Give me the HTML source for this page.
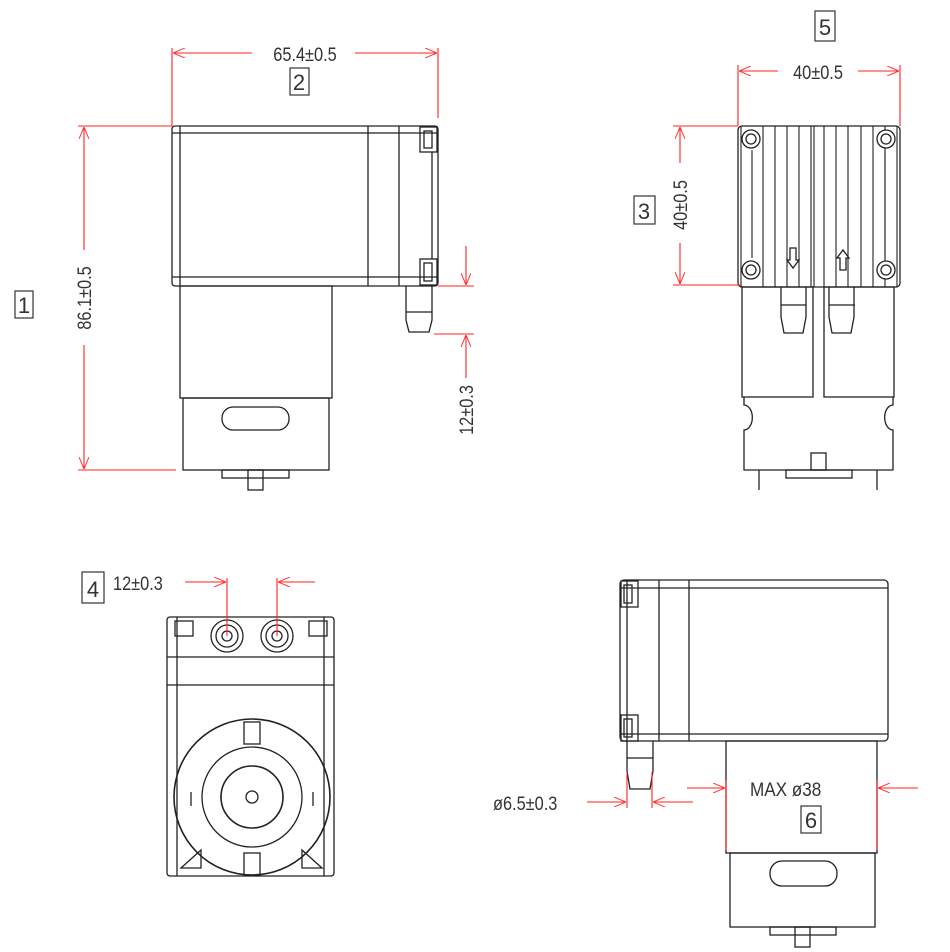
<!DOCTYPE html>
<html><head><meta charset="utf-8"><style>
html,body{margin:0;padding:0;background:#fff;width:950px;height:952px;overflow:hidden}
svg{display:block}
text{font-family:"Liberation Sans",sans-serif;fill:#333}
</style></head><body>
<svg width="950" height="952" viewBox="0 0 950 952" xmlns="http://www.w3.org/2000/svg">
<defs>
<marker id="a" viewBox="0 0 12 10" refX="12" refY="5" markerWidth="12" markerHeight="10" orient="auto-start-reverse" markerUnits="userSpaceOnUse"><path d="M0,0 L12,5 L0,10" fill="none" stroke="#f33" stroke-width="1"/></marker>
</defs>
<g fill="none" stroke="#222" stroke-width="1.3">
<rect x="172" y="126" width="266" height="160" rx="3"/>
<line x1="180" y1="126" x2="180" y2="286"/>
<line x1="172" y1="133" x2="438" y2="133"/>
<line x1="172" y1="277" x2="438" y2="277"/>
<line x1="368" y1="126" x2="368" y2="286"/>
<line x1="399" y1="126" x2="399" y2="286"/>
<rect x="420" y="127" width="17" height="25"/><rect x="424" y="131" width="8" height="17"/>
<rect x="420" y="259" width="17" height="26"/><rect x="424" y="263" width="8" height="18"/>
<line x1="432" y1="152" x2="432" y2="259"/>
<rect x="180" y="286" width="152" height="112"/>
<rect x="183" y="398" width="146" height="72"/>
<rect x="222" y="407" width="67" height="23" rx="11"/>
<rect x="222" y="470" width="67" height="8"/>
<rect x="248" y="470" width="15" height="20"/>
<path d="M406,286 v34 l3,12 h20 l3,-12 v-34"/>
<line x1="406" y1="312" x2="432" y2="312"/>
<rect x="738" y="126" width="162" height="161" rx="4"/>
<g stroke-width="1.1">
<line x1="741" y1="126" x2="741" y2="287"/><line x1="763" y1="126" x2="763" y2="287"/>
<line x1="775" y1="126" x2="775" y2="287"/><line x1="787" y1="126" x2="787" y2="287"/>
<line x1="799" y1="126" x2="799" y2="287"/><line x1="811" y1="126" x2="811" y2="287"/>
<line x1="814" y1="126" x2="814" y2="287"/><line x1="824" y1="126" x2="824" y2="287"/>
<line x1="836" y1="126" x2="836" y2="287"/><line x1="848" y1="126" x2="848" y2="287"/>
<line x1="861" y1="126" x2="861" y2="287"/><line x1="873" y1="126" x2="873" y2="287"/>
<line x1="885" y1="126" x2="885" y2="287"/><line x1="897" y1="126" x2="897" y2="287"/>
<line x1="752" y1="150" x2="752" y2="258"/><line x1="885" y1="150" x2="885" y2="258"/>
</g>
<g fill="#fff">
<circle cx="751" cy="139" r="9"/><circle cx="751" cy="139" r="5"/>
<circle cx="886" cy="139" r="9"/><circle cx="886" cy="139" r="5"/>
<circle cx="751" cy="270" r="9"/><circle cx="751" cy="270" r="5"/>
<circle cx="886" cy="270" r="9"/><circle cx="886" cy="270" r="5"/>
</g>
<path d="M790,248 h6 v12 h3 l-6,8 l-6,-8 h3z"/>
<path d="M840,270 h6 v-12 h3 l-6,-8 l-6,8 h3z"/>
<rect x="742" y="287" width="71" height="110"/>
<rect x="824" y="287" width="70" height="110"/>
<path d="M781,287 v30 l3,16 h19 l3,-16 v-30"/><line x1="781" y1="305" x2="806" y2="305"/>
<path d="M829,287 v30 l3,16 h19 l3,-16 v-30"/><line x1="829" y1="305" x2="855" y2="305"/>
<path d="M744,397 v8 a8,12 0 0 1 0,25 v40 h149 v-40 a8,12 0 0 1 0,-25 v-8"/>
<rect x="811" y="453" width="15" height="17"/>
<rect x="786" y="470" width="66" height="8"/>
<line x1="759" y1="470" x2="759" y2="490"/><line x1="877" y1="470" x2="877" y2="490"/>
<rect x="167" y="617" width="167" height="259" rx="3"/>
<line x1="177" y1="617" x2="177" y2="876"/><line x1="324" y1="617" x2="324" y2="876"/>
<line x1="167" y1="657" x2="334" y2="657"/>
<line x1="167" y1="685" x2="334" y2="685"/>
<rect x="175" y="621" width="18" height="15"/><rect x="309" y="621" width="18" height="15"/>
<circle cx="227" cy="636" r="16"/><circle cx="227" cy="636" r="11"/><circle cx="227" cy="636" r="5"/>
<circle cx="277" cy="636" r="16"/><circle cx="277" cy="636" r="11"/><circle cx="277" cy="636" r="5"/>
<circle cx="252" cy="797" r="78" stroke-width="1.6"/>
<circle cx="252" cy="797" r="50"/>
<circle cx="252" cy="797" r="31" stroke-width="1.6"/>
<circle cx="252" cy="797" r="6"/>
<rect x="244" y="722" width="16" height="22"/>
<rect x="244" y="853" width="16" height="22"/>
<line x1="191" y1="792" x2="191" y2="806"/><line x1="313" y1="792" x2="313" y2="806"/>
<path d="M181,868 l20,-18 v18z"/><path d="M322,868 l-20,-18 v18z"/>
<rect x="620" y="580" width="268" height="161" rx="4"/>
<line x1="627" y1="580" x2="627" y2="741"/>
<line x1="620" y1="588" x2="888" y2="588"/>
<line x1="620" y1="734" x2="888" y2="734"/>
<line x1="659" y1="580" x2="659" y2="741"/>
<line x1="689" y1="580" x2="689" y2="741"/>
<rect x="621" y="581" width="17" height="26"/><rect x="624" y="585" width="8" height="18"/>
<rect x="621" y="715" width="17" height="26"/><rect x="624" y="719" width="8" height="18"/>
<rect x="726" y="741" width="151" height="112"/>
<rect x="730" y="853" width="145" height="74"/>
<rect x="770" y="861" width="67" height="25" rx="12"/>
<rect x="770" y="927" width="66" height="8"/>
<rect x="795" y="927" width="15" height="20"/>
<path d="M627,741 v30 l3,18 h20 l3,-18 v-30"/><line x1="627" y1="758" x2="653" y2="758"/>
</g>
<g stroke="#f22" stroke-width="1.1" fill="none">
<line x1="172" y1="48" x2="172" y2="126"/><line x1="438" y1="48" x2="438" y2="118"/>
<line x1="173" y1="53" x2="252" y2="53" marker-start="url(#a)"/><line x1="355" y1="53" x2="437" y2="53" marker-end="url(#a)"/>
<line x1="78" y1="126" x2="172" y2="126"/><line x1="78" y1="470" x2="176" y2="470"/>
<line x1="84" y1="127" x2="84" y2="250" marker-start="url(#a)"/><line x1="84" y1="345" x2="84" y2="469" marker-end="url(#a)"/>
<line x1="438" y1="286" x2="474" y2="286"/><line x1="434" y1="334" x2="474" y2="334"/>
<line x1="466" y1="246" x2="466" y2="285" marker-end="url(#a)"/><line x1="466" y1="378" x2="466" y2="335" marker-end="url(#a)"/>
<line x1="738" y1="65" x2="738" y2="126"/><line x1="900" y1="65" x2="900" y2="126"/>
<line x1="739" y1="71" x2="778" y2="71" marker-start="url(#a)"/><line x1="858" y1="71" x2="899" y2="71" marker-end="url(#a)"/>
<line x1="673" y1="126" x2="738" y2="126"/><line x1="673" y1="285" x2="742" y2="285"/>
<line x1="680" y1="127" x2="680" y2="163" marker-start="url(#a)"/><line x1="680" y1="243" x2="680" y2="284" marker-end="url(#a)"/>
<line x1="227" y1="578" x2="227" y2="636"/><line x1="277" y1="578" x2="277" y2="636"/>
<line x1="185" y1="582" x2="226" y2="582" marker-end="url(#a)"/><line x1="315" y1="582" x2="278" y2="582" marker-end="url(#a)"/>
<line x1="627" y1="772" x2="627" y2="808"/><line x1="652" y1="772" x2="652" y2="808"/>
<line x1="587" y1="802" x2="626" y2="802" marker-end="url(#a)"/><line x1="693" y1="802" x2="653" y2="802" marker-end="url(#a)"/>
<line x1="726" y1="780" x2="726" y2="850"/><line x1="877" y1="780" x2="877" y2="850"/>
<line x1="687" y1="788" x2="725" y2="788" marker-end="url(#a)"/><line x1="918" y1="788" x2="878" y2="788" marker-end="url(#a)"/>
</g>
<g font-size="19">
<text transform="translate(305,61) scale(0.86,1)" text-anchor="middle">65.4±0.5</text>
<text transform="translate(818,79) scale(0.86,1)" text-anchor="middle">40±0.5</text>
<text transform="translate(91,298) rotate(-90) scale(0.86,1)" text-anchor="middle">86.1±0.5</text>
<text transform="translate(473,410) rotate(-90) scale(0.86,1)" text-anchor="middle">12±0.3</text>
<text transform="translate(687,205) rotate(-90) scale(0.86,1)" text-anchor="middle">40±0.5</text>
<text transform="translate(113,590) scale(0.86,1)">12±0.3</text>
<text transform="translate(493,810) scale(0.86,1)">ø6.5±0.3</text>
<text transform="translate(750,796) scale(0.9,1)">MAX ø38</text>
</g>
<g fill="none" stroke="#333" stroke-width="1.2">
<rect x="290" y="68" width="19" height="27"/><rect x="815" y="11" width="20" height="30"/>
<rect x="15" y="291" width="18" height="27"/><rect x="634" y="196" width="21" height="28"/>
<rect x="82" y="572" width="22" height="31"/><rect x="801" y="806" width="20" height="27"/>
</g>
<g font-size="22" text-anchor="middle">
<text x="299" y="90">2</text><text x="825" y="35">5</text><text x="24" y="313">1</text>
<text x="644" y="219">3</text><text x="93" y="597">4</text><text x="811" y="828">6</text>
</g>
</svg>
</body></html>
